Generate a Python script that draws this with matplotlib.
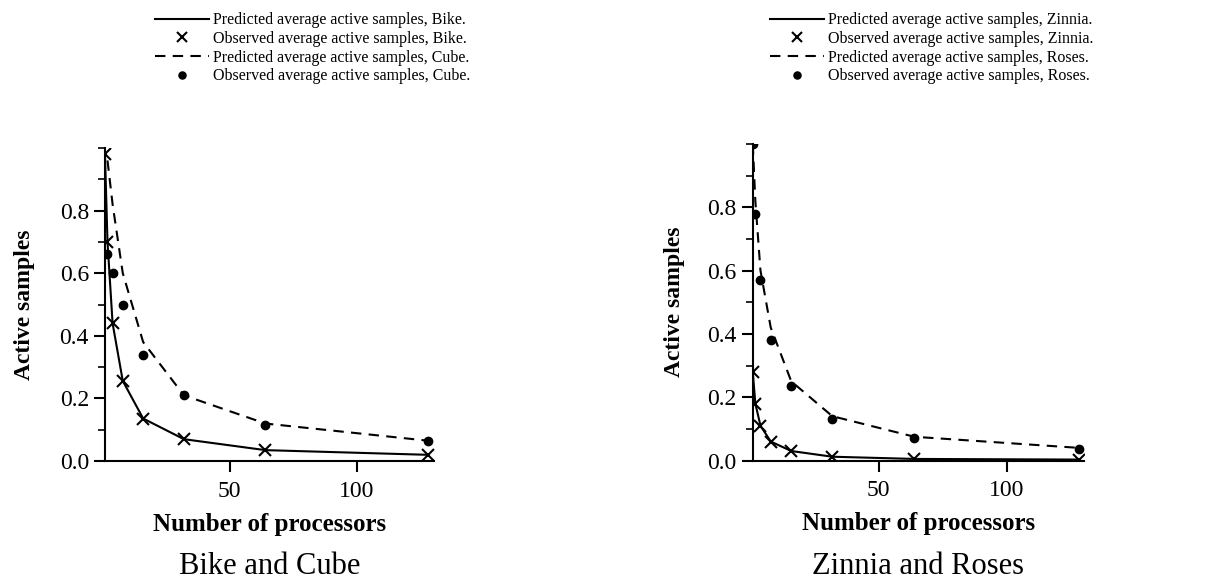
import numpy as np
import matplotlib
matplotlib.use("Agg")
import matplotlib.pyplot as plt
from matplotlib.ticker import MultipleLocator

plt.rcParams['font.family'] = ['Liberation Serif', 'DejaVu Serif']

# =========================
# DATA
# =========================
procs = [1, 2, 4, 8, 16, 32, 64, 128]

bike_pred = [0.98, 0.70, 0.44, 0.256, 0.136, 0.07, 0.035, 0.02]
bike_obs = [0.98, 0.70, 0.44, 0.256, 0.136, 0.07, 0.035, 0.02]
cube_pred_x = [2, 4, 8, 16, 32, 64, 128]
cube_pred = [0.96, 0.82, 0.60, 0.38, 0.21, 0.12, 0.065]
cube_obs_x = [2, 4, 8, 16, 32, 64, 128]
cube_obs = [0.66, 0.60, 0.50, 0.34, 0.21, 0.115, 0.065]

zinnia_pred = [0.28, 0.18, 0.11, 0.06, 0.03, 0.012, 0.005, 0.003]
zinnia_obs = [0.28, 0.18, 0.11, 0.06, 0.03, 0.012, 0.005, 0.003]
roses_pred = [1.0, 0.82, 0.60, 0.42, 0.25, 0.14, 0.075, 0.04]
roses_obs = [1.0, 0.78, 0.57, 0.38, 0.235, 0.131, 0.072, 0.035]

panels = [
    ("Bike", "Cube", procs, bike_pred, procs, bike_obs,
     cube_pred_x, cube_pred, cube_obs_x, cube_obs),
    ("Zinnia", "Roses", procs, zinnia_pred, procs, zinnia_obs,
     procs, roses_pred, procs, roses_obs),
]

# =========================
# FIGURE
# =========================
fig = plt.figure(figsize=(12.26, 5.8), dpi=100)
ax_rects = [[0.0856, 0.205, 0.268, 0.540], [0.614, 0.206, 0.270, 0.546]]
leg_pos = [(0.1264, 0.979), (0.628, 0.979)]
ylabel_x = [-0.213, -0.205]

for rect, lp, ylx, p in zip(ax_rects, leg_pos, ylabel_x, panels):
    n1, n2, x1p, y1p, x1o, y1o, x2p, y2p, x2o, y2o = p
    ax = fig.add_axes(rect)
    h1, = ax.plot(x1p, y1p, color='black', lw=1.5)
    h2, = ax.plot(x1o, y1o, ls='none', marker='x', color='black', ms=9, mew=1.5)
    h3, = ax.plot(x2p, y2p, color='black', lw=1.5, ls=(0, (5, 3.5)))
    h4, = ax.plot(x2o, y2o, ls='none', marker='o', color='black', ms=6)

    ax.set_xlim(1, 130)
    ax.set_ylim(0, 1.0)
    ax.set_xticks([50, 100])
    ax.set_yticks([0.0, 0.2, 0.4, 0.6, 0.8])
    ax.yaxis.set_minor_locator(MultipleLocator(0.1))
    ax.set_yticklabels(['0.0', '0.2', '0.4', '0.6', '0.8'])
    ax.tick_params(axis='both', which='major', direction='out', length=8,
                   width=1.5, labelsize=17)
    ax.tick_params(axis='x', which='major', pad=6)
    ax.tick_params(axis='y', which='minor', direction='out', length=5, width=1.2)
    for s in ['top', 'right']:
        ax.spines[s].set_visible(False)
    for s in ['left', 'bottom']:
        ax.spines[s].set_linewidth(1.5)

    ax.set_ylabel('Active samples', fontsize=17, fontweight='bold')
    ax.yaxis.set_label_coords(ylx, 0.5)
    ax.set_xlabel('Number of processors', fontsize=18, fontweight='bold', labelpad=8)
    ax.text(0.5, -0.335, f'{n1} and {n2}', transform=ax.transAxes,
            ha='center', va='center', fontsize=22)

    labels = [f'Predicted average active samples, {n1}.',
              f'Observed average active samples, {n1}.',
              f'Predicted average active samples, {n2}.',
              f'Observed average active samples, {n2}.']
    leg = fig.legend([h1, h2, h3, h4], labels, loc='upper left', bbox_to_anchor=lp,
                     frameon=False, fontsize=11.5, handlelength=3.4, handletextpad=0.25,
                     labelspacing=0.17, borderpad=0, borderaxespad=0, markerscale=0.85)

fig.savefig('out.png', dpi=100)
